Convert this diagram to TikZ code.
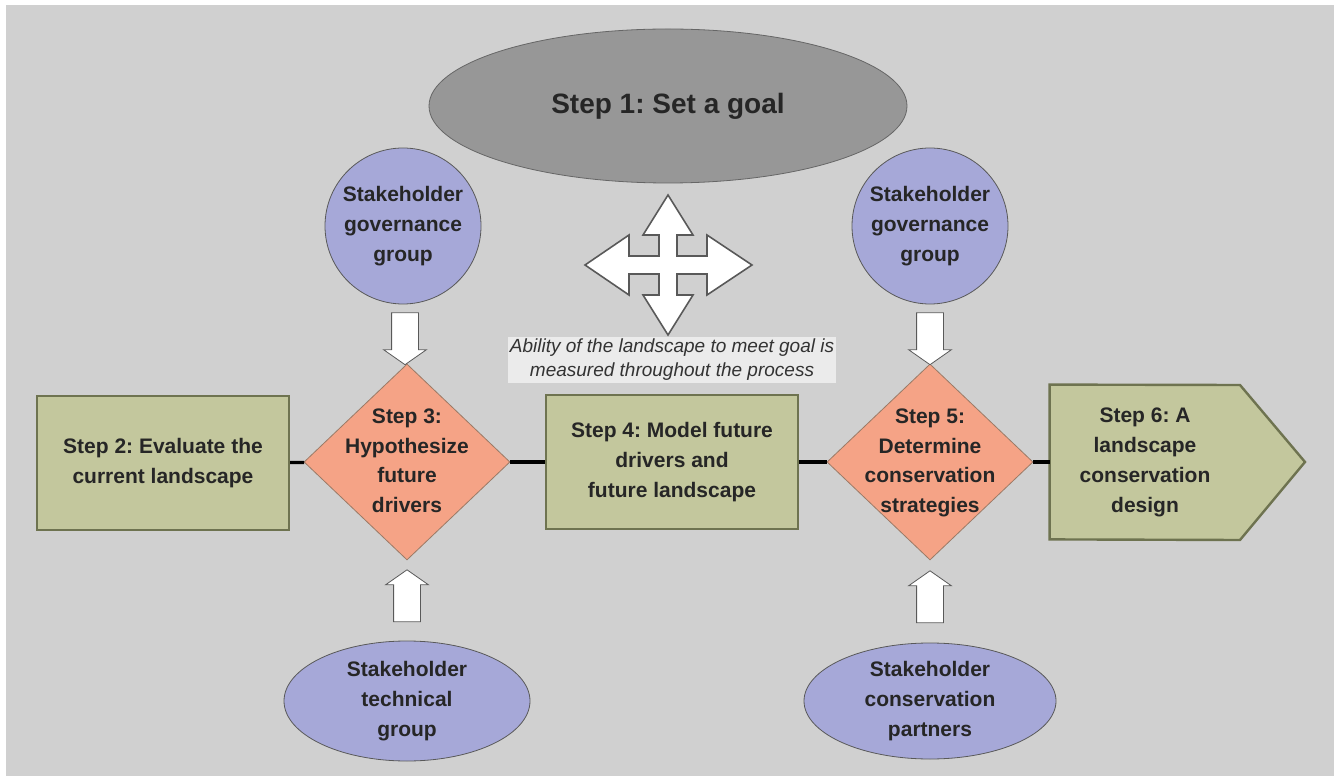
\documentclass[tikz,border=0pt]{standalone}
\usepackage{fontspec}
\setmainfont{Liberation Sans}
\frenchspacing
\usetikzlibrary{shapes.geometric,shapes.arrows,calc,backgrounds}

\definecolor{bggray}{HTML}{D0D0D0}
\definecolor{goalgray}{HTML}{979797}
\definecolor{holderblue}{HTML}{A6A8D8}
\definecolor{boxgreen}{HTML}{C3C79D}
\definecolor{boxedge}{HTML}{6E7350}
\definecolor{salmon}{HTML}{F5A386}
\definecolor{salmonedge}{HTML}{9A7A66}

% text of a diamond, kept out of its size
\newcommand{\dtext}[1]{\makebox[0pt]{\begin{tabular}{@{}c@{}}#1\end{tabular}}}

\begin{document}
\begin{tikzpicture}[x=0.5pt, y=-0.5pt,
    txt/.style = {font=\bfseries\fontsize{10.5}{15}\selectfont, text=black!85},
    goal/.style = {draw=black!60, ellipse, fill=goalgray, minimum width=239pt, minimum height=77pt,
                   font=\bfseries\fontsize{14}{16}\selectfont, text=black!85},
    holder/.style = {txt, draw=black!65, circle, fill=holderblue, minimum size=78pt, inner sep=0pt, align=center},
    oval/.style = {txt, draw=black!65, ellipse, fill=holderblue, inner sep=0pt, align=center},
    stepbox/.style = {txt, draw=boxedge, line width=1.2pt, fill=boxgreen, minimum width=126pt, minimum height=67pt, align=center},
    stepdiamond/.style = {txt, draw=salmonedge, diamond, fill=salmon, minimum width=103pt, minimum height=98pt, inner sep=0pt},
    blockarrow/.style = {single arrow, draw=black!65, fill=white, minimum height=26pt, minimum width=21pt,
                         inner sep=6.5pt, single arrow head extend=4pt, single arrow tip angle=110},
    link/.style = {draw=black, line width=1.6pt}]

  \begin{scope}[on background layer]
    \fill[white] (0,0) rectangle (1338,780);
    \fill[bggray] (6,5) rectangle (1334,776);
  \end{scope}
  \useasboundingbox (0,0) rectangle (1338,780);

  % top
  \node[goal] (goal) at (668,106) {Step 1: Set a goal};
  \node[holder] (gov1) at (403,226) {Stakeholder\\governance\\group};
  \node[holder] (gov2) at (930,226) {Stakeholder\\governance\\group};

  % four-way arrow
  \draw[black!65, fill=white, line width=0.8pt]
    (668,195) -- (693,235) -- (677,235) -- (677,256) -- (707,256) -- (707,235) -- (752,265)
    -- (707,295) -- (707,274) -- (677,274) -- (677,295) -- (693,295) -- (668,335)
    -- (643,295) -- (659,295) -- (659,274) -- (629,274) -- (629,295) -- (585,265)
    -- (629,235) -- (629,256) -- (659,256) -- (659,235) -- (643,235) -- cycle;

  \node[fill=black!8, inner sep=1pt, align=center, font=\itshape\fontsize{9.5}{12}\selectfont, text=black!80]
    (note) at (672,360) {Ability of the landscape to meet goal is\\measured throughout the process};

  % steps
  \node[stepbox] (s2) at (163,463) {Step 2: Evaluate the\\current landscape};
  \node[stepdiamond] (s3) at (407,462) {\dtext{Step 3:\\Hypothesize\\future\\drivers}};
  \node[stepbox] (s4) at (672,462) {Step 4: Model future\\drivers and\\future landscape};
  \node[stepdiamond] (s5) at (930,462) {\dtext{Step 5:\\Determine\\conservation\\strategies}};
  \node[txt, minimum width=95pt, minimum height=77pt, align=center] (s6) at (1145,462)
    {Step 6: A\\landscape\\conservation\\design};
  \begin{scope}[on background layer]
    \draw[boxedge, line width=1.2pt, fill=boxgreen]
      (s6.north west) -- (1240,385) -- (1305,462) -- (1240,540) -- (s6.south west) -- cycle;
  \end{scope}

  \draw[link] (s2) -- (s3);
  \draw[link] (s3) -- (s4);
  \draw[link] (s4) -- (s5);
  \draw[link] (s5) -- (s6);

  % bottom
  \node[oval, minimum width=123pt, minimum height=60pt] (tech) at (407,701) {Stakeholder\\technical\\group};
  \node[oval, minimum width=126pt, minimum height=58pt] (cons) at (930,701) {Stakeholder\\conservation\\partners};

  \node[blockarrow, rotate=-90] at ($(gov1.south)!0.5!(s3.north)$) {};
  \node[blockarrow, rotate=-90] at ($(gov2.south)!0.5!(s5.north)$) {};
  \node[blockarrow, rotate=90] at ($(tech.north)!0.5!(s3.south)$) {};
  \node[blockarrow, rotate=90] at ($(cons.north)!0.5!(s5.south)$) {};
\end{tikzpicture}
\end{document}
